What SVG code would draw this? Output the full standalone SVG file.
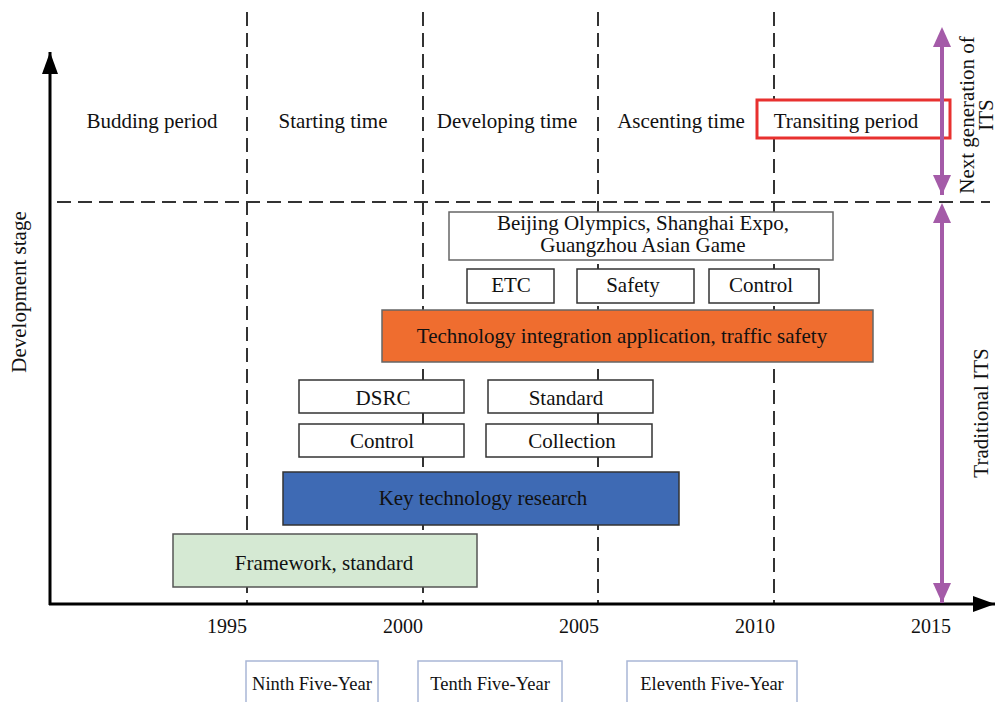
<svg xmlns="http://www.w3.org/2000/svg" width="997" height="702" viewBox="0 0 997 702">
<style>
text{font-family:"Liberation Serif","Times New Roman",serif;fill:#111;}
.lbl{font-size:21px;text-anchor:middle;}
.yr{font-size:20px;text-anchor:middle;}
.fy{font-size:18.5px;text-anchor:middle;}
.dash{stroke:#333;stroke-width:2;stroke-dasharray:14 7;fill:none;}
.box{fill:#fff;stroke:#333;stroke-width:1.5;}
.fybox{fill:#fff;stroke:#a9b7d6;stroke-width:1.5;}
.axis{stroke:#000;stroke-width:3;fill:none;}
.purple{stroke:#a45ba8;stroke-width:4;fill:none;}
</style>
<defs>
<marker id="ah" markerUnits="userSpaceOnUse" markerWidth="24" markerHeight="16" refX="22" refY="8" orient="auto">
<path d="M0,0 L22,8 L0,16 Z" fill="#000"/>
</marker>
<marker id="ph" markerUnits="userSpaceOnUse" markerWidth="22" markerHeight="20" refX="20" refY="10" orient="auto">
<path d="M0,1 L20,10 L0,19 Z" fill="#a45ba8"/>
</marker>
<marker id="phs" markerUnits="userSpaceOnUse" markerWidth="22" markerHeight="20" refX="0" refY="10" orient="auto-start-reverse">
<path d="M0,1 L20,10 L0,19 Z" fill="#a45ba8"/>
</marker>
</defs>
<rect width="997" height="702" fill="#fff"/>
<g id="connectors">
<line class="dash" x1="247" y1="12" x2="247" y2="603"/>
<line class="dash" x1="423" y1="12" x2="423" y2="603"/>
<line class="dash" x1="598" y1="12" x2="598" y2="603"/>
<line class="dash" x1="774" y1="12" x2="774" y2="603"/>
<line class="dash" x1="57" y1="202" x2="990" y2="202"/>
<line class="axis" x1="50" y1="605" x2="50" y2="52" marker-end="url(#ah)"/>
<line class="axis" x1="49" y1="604" x2="995" y2="604" marker-end="url(#ah)"/>
</g>
<g id="budding"><text class="lbl" x="152" y="128">Budding period</text></g>
<g id="starting"><text class="lbl" x="333" y="128">Starting time</text></g>
<g id="developing"><text class="lbl" x="507" y="128">Developing time</text></g>
<g id="ascenting"><text class="lbl" x="681" y="128">Ascenting time</text></g>
<g id="transiting"><rect x="757" y="100" width="193" height="38" fill="#fff" stroke="#e8312f" stroke-width="3"/><text class="lbl" x="846" y="128">Transiting period</text></g>
<g id="its-arrows">
<line class="purple" x1="942" y1="47" x2="942" y2="195" marker-start="url(#phs)" marker-end="url(#ph)"/>
<line class="purple" x1="942" y1="223" x2="942" y2="603" marker-start="url(#phs)" marker-end="url(#ph)"/>
</g>
<g id="nextgen"><text class="lbl" transform="translate(974,115) rotate(-90)">Next generation of</text><text class="lbl" transform="translate(993,115) rotate(-90)">ITS</text></g>
<g id="traditional"><text class="lbl" transform="translate(988,413) rotate(-90)">Traditional ITS</text></g>
<g id="devstage"><text class="lbl" transform="translate(26,292) rotate(-90)">Development stage</text></g>
<g id="events"><rect x="449" y="212" width="384" height="48" fill="#fff" stroke="#666" stroke-width="1.5"/><text class="lbl" x="643" y="230">Beijing Olympics, Shanghai Expo,</text><text class="lbl" x="643" y="252">Guangzhou Asian Game</text></g>
<g id="etc"><rect class="box" x="467" y="269" width="87" height="34"/><text class="lbl" x="511" y="292">ETC</text></g>
<g id="safety"><rect class="box" x="577" y="269" width="117" height="34"/><text class="lbl" x="633" y="292">Safety</text></g>
<g id="control1"><rect class="box" x="709" y="269" width="110" height="34"/><text class="lbl" x="761" y="292">Control</text></g>
<g id="integration"><rect x="382" y="310" width="491" height="52" fill="#ef6d2f" stroke="#666" stroke-width="1.5"/><text class="lbl" x="622" y="343">Technology integration application, traffic safety</text></g>
<g id="dsrc"><rect class="box" x="299" y="380" width="165" height="33"/><text class="lbl" x="383" y="405">DSRC</text></g>
<g id="standard"><rect class="box" x="488" y="380" width="165" height="33"/><text class="lbl" x="566" y="405">Standard</text></g>
<g id="control2"><rect class="box" x="299" y="424" width="165" height="33"/><text class="lbl" x="382" y="448">Control</text></g>
<g id="collection"><rect class="box" x="486" y="424" width="166" height="33"/><text class="lbl" x="572" y="448">Collection</text></g>
<g id="keytech"><rect x="283" y="472" width="396" height="53" fill="#3e6ab4" stroke="#333" stroke-width="1.5"/><text class="lbl" x="483" y="505">Key technology research</text></g>
<g id="framework"><rect x="173" y="534" width="304" height="53" fill="#d5e9d3" stroke="#555" stroke-width="1.5"/><text class="lbl" x="324" y="570">Framework, standard</text></g>
<g id="years">
<text class="yr" x="227" y="633">1995</text>
<text class="yr" x="403" y="633">2000</text>
<text class="yr" x="579" y="633">2005</text>
<text class="yr" x="755" y="633">2010</text>
<text class="yr" x="931" y="633">2015</text>
</g>
<g id="ninth"><rect class="fybox" x="246" y="661" width="132" height="46"/><text class="fy" x="312" y="690">Ninth Five-Year</text></g>
<g id="tenth"><rect class="fybox" x="418" y="661" width="144" height="46"/><text class="fy" x="490" y="690">Tenth Five-Year</text></g>
<g id="eleventh"><rect class="fybox" x="627" y="661" width="170" height="46"/><text class="fy" x="712" y="690">Eleventh Five-Year</text></g>
</svg>
